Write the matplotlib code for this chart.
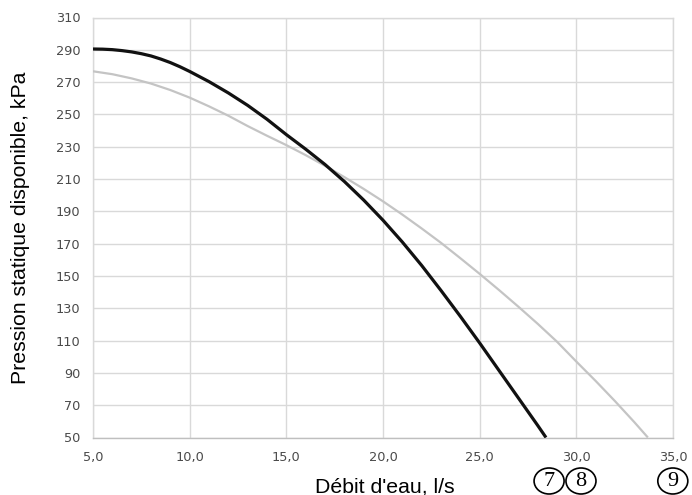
import matplotlib
matplotlib.use("Agg")
import matplotlib.pyplot as plt
from matplotlib.patches import Ellipse
from matplotlib.transforms import blended_transform_factory

# ---- data ----
flow_black = [5, 5.5, 6, 6.5, 7, 7.5, 8, 8.5, 9, 9.5, 10, 11, 12, 13, 14, 15,
              16, 17, 18, 19, 20, 21, 22, 23, 24, 25, 26, 27, 28, 28.43]
press_black = [290.5, 290.4, 290.1, 289.5, 288.7, 287.6, 286.2, 284.3, 282.1,
               279.5, 276.6, 270.3, 263.3, 255.6, 247.0, 237.5, 228.5, 219.0,
               208.5, 197.0, 184.5, 171.0, 156.5, 141.0, 125.0, 108.5, 91.5,
               74.5, 57.5, 50.0]

flow_gray = [5, 6, 7, 8, 9, 10, 11, 12, 13, 14, 15, 16, 17, 18, 19, 20, 21,
             22, 23, 24, 25, 26, 27, 28, 29, 30, 31, 32, 33, 33.7]
press_gray = [276.7, 274.9, 272.3, 269.1, 265.1, 260.4, 255.0, 249.2, 242.8,
              236.8, 231.0, 224.8, 218.2, 211.2, 203.9, 196.2, 188.0, 179.4,
              170.5, 161.0, 151.3, 141.3, 131.0, 120.4, 109.3, 97.0, 85.0,
              72.5, 59.5, 50.0]

x_ticks = [5, 10, 15, 20, 25, 30, 35]
x_tick_labels = ["5,0", "10,0", "15,0", "20,0", "25,0", "30,0", "35,0"]
y_ticks = list(range(50, 311, 20))
y_tick_labels = [str(v) for v in y_ticks]

circle_labels = ["7", "8", "9"]
circle_x = [28.59, 30.24, 34.99]

x_label = "Débit d'eau, l/s"
y_label = "Pression statique disponible, kPa"

# ---- figure ----
fig = plt.figure(figsize=(6.92, 4.95), dpi=100)
ax = fig.add_axes([93 / 692, 1 - 437.5 / 495, (673 - 93) / 692, (437.5 - 17.5) / 495])

ax.plot(flow_gray, press_gray, color="#c4c4c4", lw=1.6, solid_capstyle="butt",
        solid_joinstyle="round", zorder=3)
ax.plot(flow_black, press_black, color="#111111", lw=2.3, solid_capstyle="butt",
        solid_joinstyle="round", zorder=4)

ax.set_xlim(5, 35)
ax.set_ylim(50, 310)
ax.set_xticks(x_ticks)
ax.set_xticklabels(x_tick_labels)
ax.set_yticks(y_ticks)
ax.set_yticklabels(y_tick_labels)

ax.grid(True, color="#d9d9d9", lw=1.0, zorder=0)
ax.set_axisbelow(True)
for side in ["top", "right", "left"]:
    ax.spines[side].set_color("#d9d9d9")
    ax.spines[side].set_linewidth(1.0)
ax.spines["bottom"].set_color("#bfbfbf")
ax.spines["bottom"].set_linewidth(1.0)

ax.tick_params(axis="both", length=0, labelcolor="#4a4a4a", labelsize=9.3)
ax.tick_params(axis="x", pad=10)
ax.tick_params(axis="y", pad=9)
for lab in ax.get_xticklabels() + ax.get_yticklabels():
    lab.set_family("DejaVu Sans")

fig.text(385 / 692, 1 - 487 / 495, x_label, ha="center", va="center",
         fontsize=15.3, family="Liberation Sans", color="#000000")
fig.text(21 / 692, 1 - 228 / 495, y_label, ha="center", va="center",
         rotation=90, fontsize=15.3, family="Liberation Sans", color="#000000")

trans = blended_transform_factory(ax.transData, fig.transFigure)
cy = 1 - 481 / 495
for lab, xc in zip(circle_labels, circle_x):
    e = Ellipse((xc, cy), width=30 / 19.33, height=26 / 495, transform=trans,
                facecolor="white", edgecolor="black", lw=1.2, clip_on=False)
    fig.add_artist(e)
    fig.text(xc, cy - 0.002, lab, transform=trans, ha="center", va="center",
             fontsize=16, family="Liberation Serif", color="black")

fig.savefig("out.png", dpi=100)
